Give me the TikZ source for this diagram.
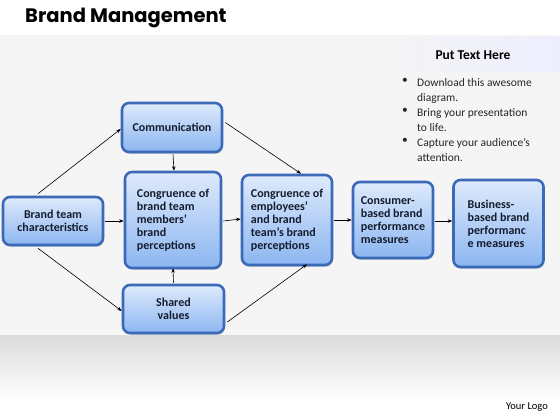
\documentclass[tikz,border=0pt]{standalone}
\usepackage{fontspec}
\setmainfont{Carlito}
\newfontfamily\titlefont{Poppins}
\usetikzlibrary{arrows.meta,shadows}
\definecolor{boxborder}{RGB}{58,106,184}
\definecolor{boxtop}{RGB}{222,234,252}
\definecolor{boxbot}{RGB}{140,182,240}
\definecolor{txt}{RGB}{20,28,45}
\tikzset{
  box/.style={draw=boxborder, line width=2.6pt, rounded corners=7pt,
    top color=boxtop, bottom color=boxbot,
    drop shadow={opacity=0.35, shadow xshift=0.8pt, shadow yshift=-1.8pt},
    inner sep=0pt, font=\fontsize{12}{13}\selectfont\bfseries, text=txt},
  link/.style={line width=0.6pt, -{Stealth[length=4.5pt,width=3.5pt]}},
  bul/.style={font=\fontsize{11.5}{15}\selectfont, text=black!85, anchor=north west, align=left, inner sep=0pt}
}
\begin{document}
\begin{tikzpicture}[x=1pt,y=-1pt]
\useasboundingbox (0,0) rectangle (560,420);
\fill[white] (0,0) rectangle (560,420);
\fill[black!4] (0,35) rectangle (560,335);
\shade[top color=black!14, bottom color=white] (0,335) rectangle (560,400);
\shade[left color=black!4, right color=blue!7] (380,38) rectangle (560,72);
\node[anchor=base west, inner sep=0pt, font=\titlefont\fontsize{19.5}{22}\selectfont\bfseries] (title) at (25,23) {Brand Management};
% right panel
\node[font=\fontsize{13.5}{15}\selectfont\bfseries, inner sep=0pt, anchor=base] (head) at (473,60) {Put Text Here};
\node[bul] (b1) at (402,78) {•};
\node[bul] (t1) at (417,78) {Download this awesome\\diagram.};
\node[bul] (b2) at (402,108) {•};
\node[bul] (t2) at (417,108) {Bring your presentation\\to life.};
\node[bul] (b3) at (402,138) {•};
\node[bul] (t3) at (417,138) {Capture your audience’s\\attention.};
\node[font=\fontsize{10.5}{12}\selectfont, anchor=base, inner sep=0pt] (logo) at (527,409) {Your Logo};
% boxes
\node[box, minimum width=100pt, minimum height=48pt, align=center] (btc) at (53,221) {Brand team\\characteristics};
\node[box, minimum width=100pt, minimum height=49pt] (comm) at (172,127.5) {Communication};
\node[box, minimum width=96pt, minimum height=96pt, align=left] (cong1) at (173,220) {Congruence of\\brand team\\members’\\brand\\perceptions};
\node[box, minimum width=101pt, minimum height=48pt, align=center] (shared) at (173.5,309) {Shared\\values};
\node[box, minimum width=90pt, minimum height=90pt, align=left] (cong2) at (287,220) {Congruence of\\employees’\\and brand\\team’s brand\\perceptions};
\node[box, minimum width=80pt, minimum height=76pt, align=left] (cons) at (393,220) {Consumer-\\based brand\\performance\\measures};
\node[box, minimum width=90pt, minimum height=87pt, align=left] (bus) at (498.5,223.5) {Business-\\based brand\\performanc\\e measures};
% links
\draw[link] (btc.north) ++(-15,-2) -- (comm.west |- 0,129) ;
\draw[link] (btc.south) ++(-15,2) -- (shared.west |- 0,311);
\draw[link] (btc.east) ++(1,0) -- (cong1.west |- btc.east);
\draw[link] (comm.south) ++(1,1) -- ([xshift=1pt]cong1.north);
\draw[link] (shared.north) ++(0,-1) -- ([yshift=1pt]cong1.south);
\draw[link] (comm.east) ++(2,-5) -- ([xshift=14pt]cong2.north);
\draw[link] (shared.east) ++(2,13) -- ([xshift=20pt,yshift=2pt]cong2.south);
\draw[link] (cong1.east) ++(1,1) -- ([yshift=1pt]cong2.west);
\draw[link] (cong2.east) ++(1,0) -- (cons.west);
\draw[link] (cons.east) ++(1,1) -- (bus.west |- 0,221);
\end{tikzpicture}
\end{document}
